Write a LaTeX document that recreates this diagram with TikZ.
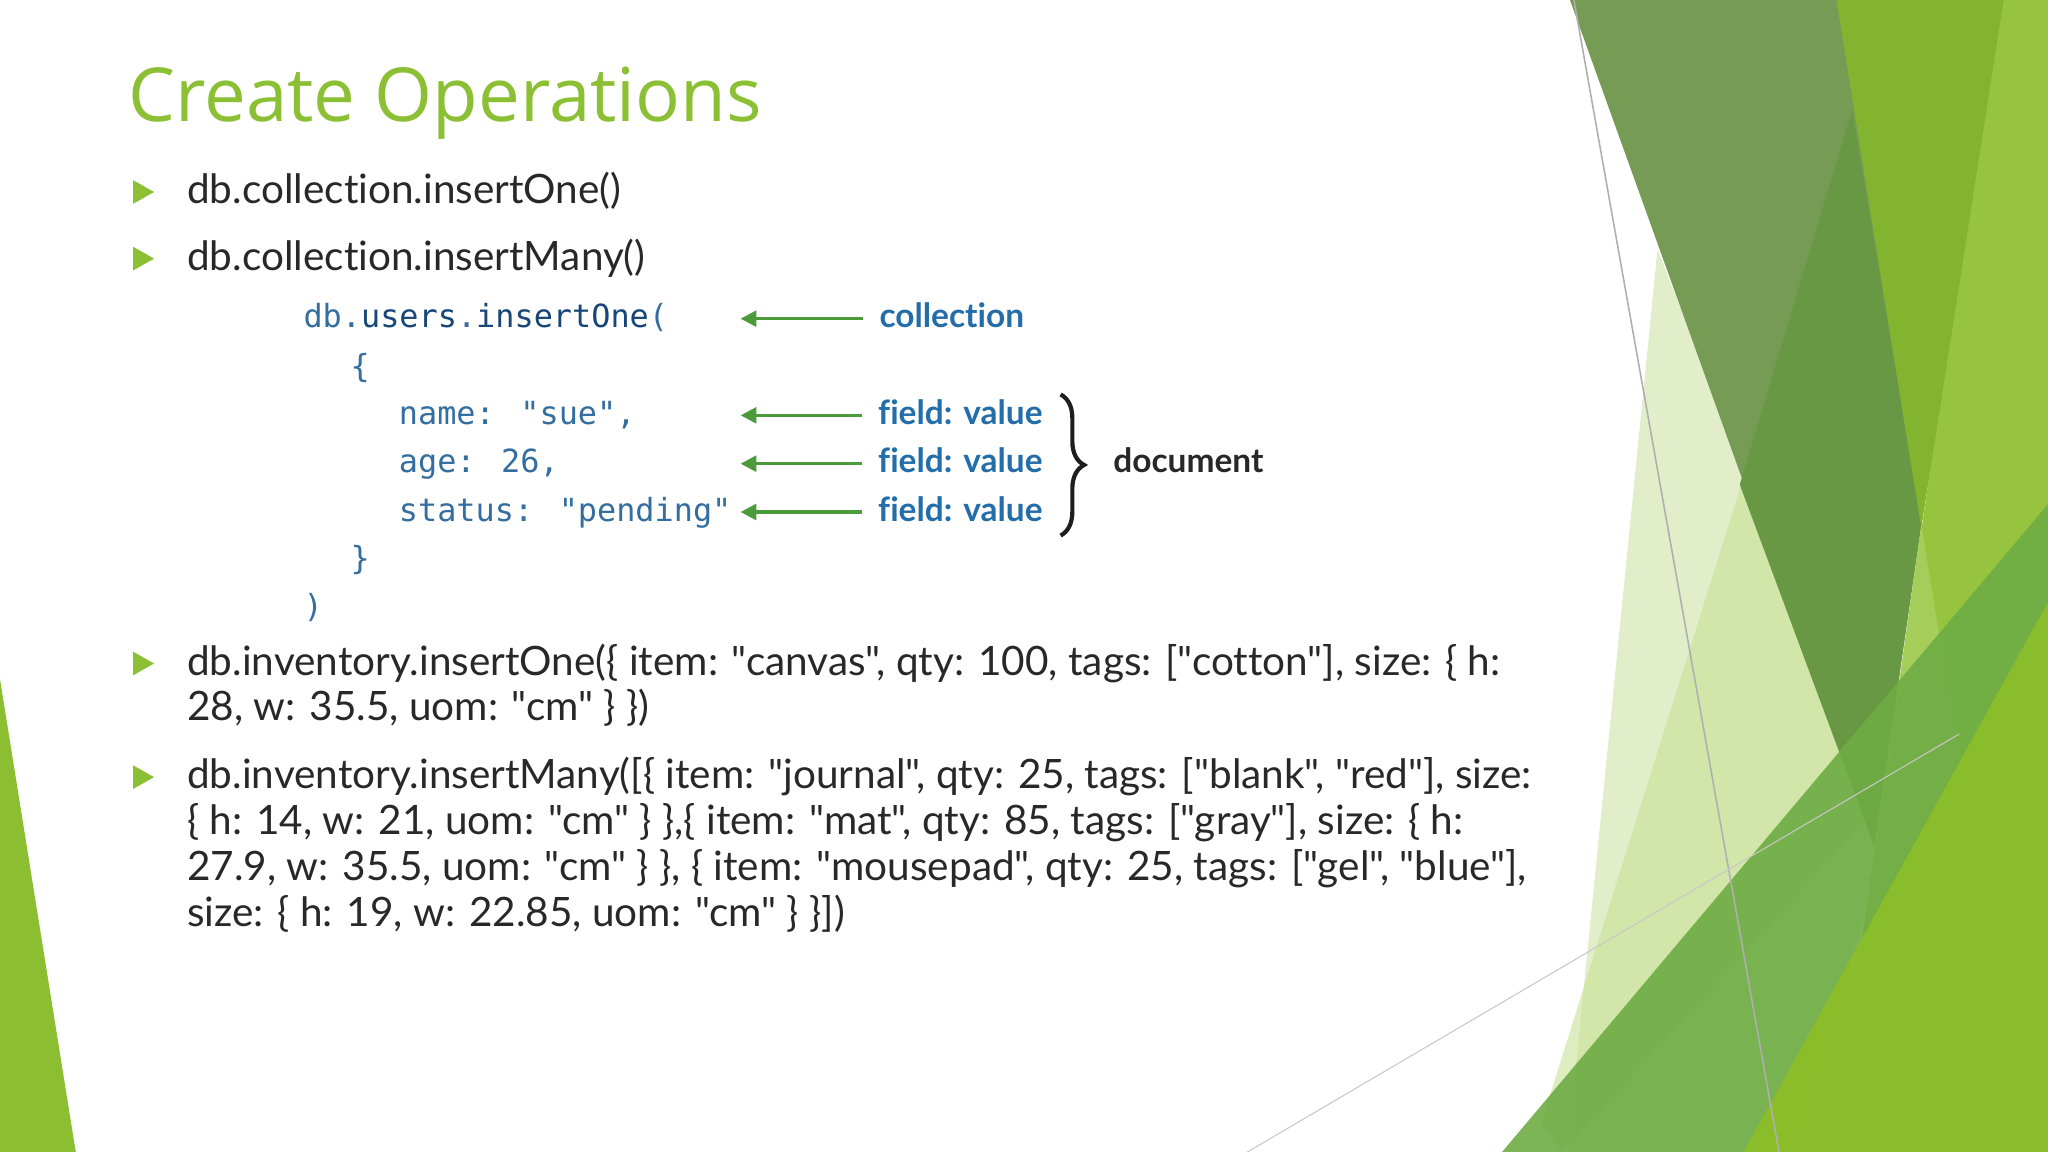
\documentclass[tikz,border=0pt]{standalone}
\usepackage{fontspec}
\setmainfont{Lato}[Ligatures={TeXOff,NoCommon}]
\newfontfamily\codefont{DejaVu Sans Mono}
\newfontfamily\titlefont{Open Sans}
\newcommand\qq{\symbol{34}}
\usetikzlibrary{decorations.pathreplacing,arrows.meta}
\definecolor{titlegreen}{RGB}{140,192,52}
\definecolor{bulletgreen}{RGB}{140,192,52}
\definecolor{codeblue}{RGB}{52,110,160}
\definecolor{codedark}{RGB}{25,70,120}
\definecolor{labelblue}{RGB}{35,110,170}
\definecolor{arrowgreen}{RGB}{75,155,60}
\definecolor{txt}{RGB}{40,40,40}
\begin{document}
\begin{tikzpicture}[x=0.5pt,y=-0.5pt,
  body/.style={anchor=base west,inner sep=0,font=\fontsize{15.5}{17.5}\selectfont,text=txt},
  code/.style={anchor=base west,inner sep=0,font=\codefont\fontsize{12.2}{14}\selectfont,text=codeblue},
  lab/.style={anchor=base west,inner sep=0,font=\fontsize{12.8}{14}\selectfont\bfseries,text=labelblue},
  bul/.style={fill=bulletgreen},
  arr/.style={draw=arrowgreen,line width=1.2pt,-{Triangle[length=6pt,width=6pt]}}]
\useasboundingbox (0,0) rectangle (1568,882);
\fill[white] (0,0) rectangle (1568,882);
% decorative shapes
\fill[color={rgb,255:red,140;green,190;blue,50}] (0,520) -- (58,882) -- (0,882) -- cycle;
\fill[color={rgb,255:red,215;green,232;blue,180},opacity=0.7] (1269,191) -- (1445,640) -- (1375,882) -- (1200,882) -- cycle;
\fill[color={rgb,255:red,200;green,225;blue,150},opacity=0.6] (1335,365) -- (1490,560) -- (1196,882) -- (1180,860) -- cycle;
\fill[color={rgb,255:red,150;green,196;blue,62}] (1530,0) -- (1568,0) -- (1568,882) -- (1402,882) -- cycle;
\fill[color={rgb,255:red,118;green,155;blue,85}] (1202,0) -- (1408,0) -- (1471,402) -- (1435,648) -- cycle;
\fill[color={rgb,255:red,105;green,152;blue,68}] (1418,84) -- (1332,371) -- (1435,648) -- (1471,402) -- cycle;
\fill[color={rgb,255:red,130;green,180;blue,48}] (1406,0) -- (1534,0) -- (1471,404) -- cycle;
\fill[color={rgb,255:red,165;green,205;blue,90}] (1471,402) -- (1500,580) -- (1427,714) -- cycle;
\fill[color={rgb,255:red,110;green,172;blue,68},opacity=0.9] (1150,882) -- (1407,577) -- (1568,386) -- (1568,882) -- cycle;
\fill[color={rgb,255:red,140;green,190;blue,42},opacity=0.95] (1335,882) -- (1568,461) -- (1568,882) -- cycle;
\draw[color={rgb,255:red,175;green,175;blue,175},line width=0.6pt] (1205,0) -- (1362,882);
\draw[color={rgb,255:red,200;green,200;blue,200},line width=0.4pt] (955,882) -- (1500,562);
% title
\node[anchor=base west,inner sep=0,font=\titlefont\fontsize{28.5}{34}\selectfont,text=titlegreen] (title) at (98,93) {Create Operations};
% bullets
\foreach \n/\y in {b1/147,b2/198,b3/508,b4/595}
  \fill[bul] (102,\y-9) -- (118,\y) -- (102,\y+9) -- cycle;
\node[body] (t1) at (143,156) {db.collection.insertOne()};
\node[body] (t2) at (143,207) {db.collection.insertMany()};
\node[body] (t3a) at (143,517) {db.inventory.insertOne(\{ item: \qq canvas\qq, qty: 100, tags: [\qq cotton\qq], size: \{ h:};
\node[body] (t3b) at (143,552) {28, w: 35.5, uom: \qq cm\qq{} \} \})};
\node[body] (t4a) at (143,604) {db.inventory.insertMany([\{ item: \qq journal\qq, qty: 25, tags: [\qq blank\qq, \qq red\qq], size:};
\node[body] (t4b) at (143,639) {\{ h: 14, w: 21, uom: \qq cm\qq{} \} \},\{ item: \qq mat\qq, qty: 85, tags: [\qq gray\qq], size: \{ h:};
\node[body] (t4c) at (143,674) {27.9, w: 35.5, uom: \qq cm\qq{} \} \}, \{ item: \qq mousepad\qq, qty: 25, tags: [\qq gel\qq, \qq blue\qq],};
\node[body] (t4d) at (143,709) {size: \{ h: 19, w: 22.85, uom: \qq cm\qq{} \} \}])};
% code block
\node[code] (c1) at (232,251) {db.\textcolor{codedark}{users}.\textcolor{codedark}{insertOne}(};
\node[code] (c2) at (268,289) {\{};
\node[code] (c3) at (305,325) {name: "sue",};
\node[code] (c4) at (305,362) {age: 26,};
\node[code] (c5) at (305,399) {status: "pending"};
\node[code] (c6) at (268,436) {\}};
\node[code] (c7) at (232,473) {)};
% labels
\node[lab] (l1) at (673,251) {collection};
\node[lab] (l2) at (672,325) {field: value};
\node[lab] (l3) at (672,362) {field: value};
\node[lab] (l4) at (672,399) {field: value};
\coordinate (a1) at (567,244);
\coordinate (a2) at (567,318);
\coordinate (a3) at (567,355);
\coordinate (a4) at (567,392);
\draw[arr] (l1.west |- a1) ++(-12,0) -- (a1);
\draw[arr] (l2.west |- a2) ++(-12,0) -- (a2);
\draw[arr] (l3.west |- a3) ++(-12,0) -- (a3);
\draw[arr] (l4.west |- a4) ++(-12,0) -- (a4);
\coordinate (br1) at (812,302);
\coordinate (br2) at (812,410);
\draw[line width=1.6pt,color={rgb,255:red,30;green,30;blue,30},decorate,decoration={brace,amplitude=9pt}] (br1) -- (br2);
\node[anchor=base west,inner sep=0,font=\fontsize{12.8}{14}\selectfont\bfseries,text={rgb,255:red,40;green,40;blue,40}] (doc) at (852,362) {document};
\end{tikzpicture}
\end{document}
